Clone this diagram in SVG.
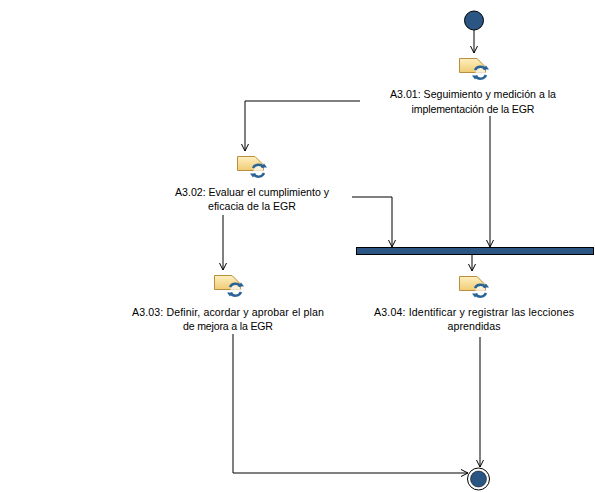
<svg xmlns="http://www.w3.org/2000/svg" width="595" height="492" viewBox="0 0 595 492">
<style>
text{font-family:"Liberation Sans",Arial,sans-serif;font-size:10.6px;fill:#000;text-anchor:middle}
.c{fill:none;stroke:#000;stroke-width:1}
.f{fill:#2b5583;stroke:#000;stroke-width:1}
</style>
<defs>
<linearGradient id="g" x1="0" y1="0" x2="0" y2="1"><stop offset="0" stop-color="#fdf0c0"/><stop offset="1" stop-color="#f0cb74"/></linearGradient>
<marker id="a" markerUnits="userSpaceOnUse" markerWidth="9" markerHeight="9" refX="7.500" refY="4" orient="auto"><path d="M0.500 0.500L7.500 4L0.500 7.500" fill="none" stroke="#000" stroke-width="1"/></marker>
<g id="icon">
<path d="M0.500 0.500H18L26.500 9V14.500H0.500Z" fill="url(#g)" stroke="#b98f3d"/>
<circle cx="21.500" cy="14.500" r="5" fill="#fff" opacity=".7"/>
<path d="M16 12A6 6 0 0 1 26.500 11.500" fill="none" stroke="#2a6496" stroke-width="2.500"/>
<path d="M27 17A6 6 0 0 1 16.500 18" fill="none" stroke="#2a6496" stroke-width="2.500"/>
<path d="M24 11.500H30L27 7.500Z M13 17.500H19L16 21.500Z" fill="#2a6496"/>
</g>
</defs>
<g id="connectors">
<path class="c" marker-end="url(#a)" d="M474 30V53"/>
<path class="c" marker-end="url(#a)" d="M360 101H245V151"/>
<path class="c" marker-end="url(#a)" d="M490 116V247"/>
<path class="c" marker-end="url(#a)" d="M352 197H392V247"/>
<path class="c" marker-end="url(#a)" d="M223 215V270"/>
<path class="c" marker-end="url(#a)" d="M472 255V271"/>
<path class="c" marker-end="url(#a)" d="M233 334V473H468"/>
<path class="c" marker-end="url(#a)" d="M480 337V467"/>
</g>
<g id="start"><circle class="f" cx="474" cy="20.500" r="9.500"/></g>
<g id="a301"><use href="#icon" x="459" y="58"/><text x="473" y="98" textLength="166">A3.01: Seguimiento y medición a la</text><text x="473" y="113" textLength="123">implementación de la EGR</text></g>
<g id="a302"><use href="#icon" x="237" y="156"/><text x="252" y="196" textLength="154">A3.02: Evaluar el cumplimiento y</text><text x="252" y="210" textLength="88">eficacia de la EGR</text></g>
<g id="a303"><use href="#icon" x="214" y="275"/><text x="228" y="316" textLength="192">A3.03: Definir, acordar y aprobar el plan</text><text x="228" y="330" textLength="90">de mejora a la EGR</text></g>
<g id="a304"><use href="#icon" x="459" y="276"/><text x="474" y="316" textLength="200">A3.04: Identificar y registrar las lecciones</text><text x="474" y="330" textLength="53">aprendidas</text></g>
<g id="fork"><rect class="f" x="356.500" y="247.500" width="237" height="7"/></g>
<g id="end"><circle cx="478.500" cy="479" r="11" fill="#fff" stroke="#000"/><circle cx="478.500" cy="479" r="8" fill="#2b5583" stroke="#000" stroke-width=".5"/></g>
</svg>
